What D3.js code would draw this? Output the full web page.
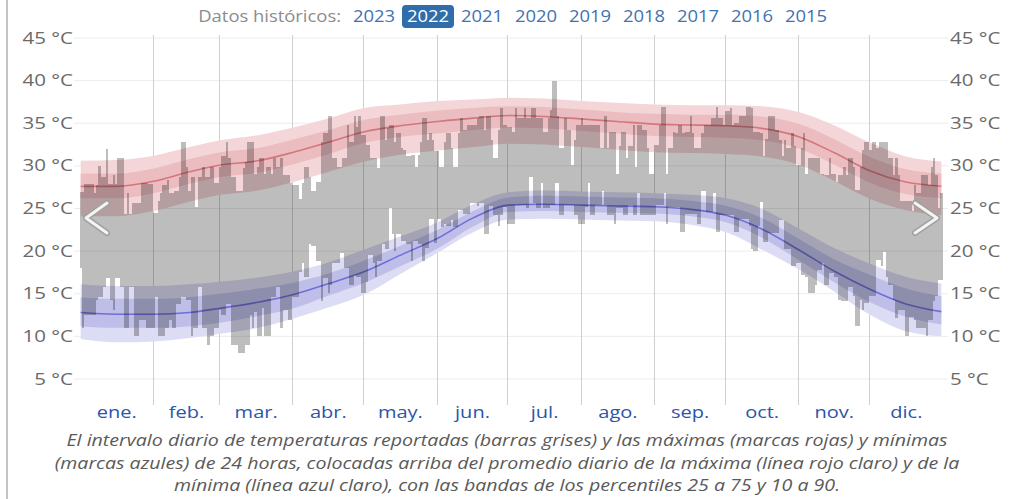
<!DOCTYPE html>
<html>
<head>
<meta charset="utf-8">
<script src="https://cdn.jsdelivr.net/npm/d3@7"></script>
<style>
  body { margin: 0; background: #fff; }
  svg { font-family: "Open Sans", sans-serif; display: block; }
</style>
</head>
<body>
<svg id="chart" width="1014" height="499"></svg>
<script>
// --- data ---
var years = ["2023", "2022", "2021", "2020", "2019", "2018", "2017", "2016", "2015"];
var selectedYear = "2022";
var months = ["ene.", "feb.", "mar.", "abr.", "may.", "jun.", "jul.", "ago.", "sep.", "oct.", "nov.", "dic."];
var monthStarts = [0, 31, 59, 90, 120, 151, 181, 212, 243, 273, 304, 334, 365];
var yTicks = [5, 10, 15, 20, 25, 30, 35, 40, 45];

// smoothed climatology (day of year)
var bandDays = [0, 15, 31, 46, 59, 75, 90, 105, 120, 135, 151, 166, 181, 196, 212, 227, 243, 258, 273, 288, 304, 319, 334, 349, 364];
var hiAvg = [27.6, 27.6, 28.2, 29.3, 30.1, 30.6, 31.6, 32.8, 34.0, 34.7, 35.2, 35.6, 35.9, 35.8, 35.5, 35.2, 34.9, 34.8, 34.7, 34.4, 33.4, 31.5, 29.4, 28.1, 27.6];
var hiP90 = [30.6, 30.7, 31.2, 32.2, 33.0, 33.6, 34.5, 35.6, 36.8, 37.2, 37.6, 37.8, 38.0, 37.9, 37.6, 37.4, 37.2, 37.1, 37.1, 37.0, 36.3, 34.7, 32.7, 31.1, 30.5];
var hiP75 = [29.1, 29.1, 29.7, 30.8, 31.6, 32.1, 33.1, 34.2, 35.4, 36.0, 36.5, 36.8, 37.0, 36.9, 36.6, 36.3, 36.1, 36.0, 36.0, 35.8, 34.9, 33.1, 31.0, 29.6, 29.1];
var hiP25 = [26.2, 26.2, 26.8, 27.9, 28.7, 29.2, 30.2, 31.4, 32.7, 33.4, 33.8, 34.2, 34.5, 34.4, 34.1, 33.8, 33.5, 33.4, 33.3, 33.0, 32.0, 30.1, 28.0, 26.7, 26.2];
var hiP10 = [24.1, 24.1, 24.7, 25.8, 26.6, 27.1, 28.1, 29.3, 30.5, 31.3, 31.8, 32.2, 32.6, 32.5, 32.2, 31.9, 31.6, 31.5, 31.4, 31.1, 30.1, 28.2, 26.1, 24.8, 24.2];
var loAvg = [12.8, 12.6, 12.6, 12.8, 13.3, 14.0, 14.9, 16.2, 17.6, 19.5, 21.5, 23.9, 25.4, 25.5, 25.4, 25.3, 25.2, 24.9, 24.2, 22.6, 20.1, 17.6, 15.5, 13.8, 12.9];
var loP90 = [16.1, 15.9, 15.9, 16.1, 16.4, 16.9, 17.6, 18.7, 20.2, 21.7, 23.4, 25.5, 26.9, 27.1, 27.0, 26.9, 26.8, 26.6, 26.2, 25.0, 22.6, 20.3, 18.5, 17.0, 16.2];
var loP75 = [14.6, 14.4, 14.4, 14.6, 15.0, 15.6, 16.3, 17.4, 18.9, 20.6, 22.5, 24.7, 26.3, 26.5, 26.4, 26.3, 26.2, 25.9, 25.3, 23.9, 21.4, 19.0, 17.2, 15.6, 14.7];
var loP25 = [11.2, 11.0, 11.0, 11.2, 11.6, 12.4, 13.3, 14.8, 16.3, 18.2, 20.3, 22.9, 24.6, 24.7, 24.6, 24.5, 24.4, 24.1, 23.4, 21.6, 18.9, 16.3, 14.0, 12.3, 11.4];
var loP10 = [9.7, 9.3, 9.4, 9.8, 10.3, 11.0, 12.1, 13.4, 14.9, 17.3, 19.8, 22.2, 23.7, 23.8, 23.7, 23.6, 23.5, 23.1, 22.2, 20.2, 17.8, 15.2, 12.5, 10.6, 10.0];

// 2022 daily reported max / min
var dailyHigh = [
  26.9, 26.9, 27.9, 27.9, 27.9, 27.9, 26.8, 27.7, 30.0, 28.7,
  28.7, 32.0, 27.9, 27.9, 28.9, 27.9, 30.9, 30.9, 30.9, 24.3,
  26.8, 24.4, 25.7, 25.7, 25.7, 25.7, 28.0, 28.0, 28.0, 27.9,
  27.9, 24.5, 24.5, 25.9, 26.8, 27.7, 27.7, 28.4, 26.8, 26.8,
  27.0, 27.0, 28.7, 32.8, 32.8, 29.9, 27.0, 28.7, 28.7, 25.2,
  28.7, 28.7, 29.9, 28.7, 28.7, 29.9, 29.9, 28.0, 28.0, 29.9,
  31.1, 31.1, 32.8, 30.9, 28.7, 28.7, 27.0, 27.0, 27.0, 29.7,
  30.5, 32.8, 32.8, 32.8, 29.1, 29.9, 30.9, 30.9, 29.1, 29.9,
  29.9, 29.1, 30.9, 29.9, 29.9, 30.9, 28.9, 28.9, 28.9, 28.0,
  27.8, 27.8, 27.8, 26.1, 28.0, 29.9, 29.9, 28.7, 27.0, 27.0,
  28.1, 28.1, 32.8, 33.8, 33.8, 35.8, 35.8, 30.9, 30.9, 29.9,
  29.9, 30.9, 30.9, 34.8, 32.8, 32.8, 35.8, 34.6, 35.9, 33.6,
  33.6, 32.4, 32.4, 30.9, 30.9, 30.9, 29.7, 35.8, 35.8, 33.0,
  34.4, 34.8, 34.8, 32.8, 33.8, 33.8, 32.1, 31.9, 31.1, 31.1,
  31.3, 31.3, 29.9, 31.3, 32.8, 35.6, 35.6, 33.0, 33.8, 33.0,
  31.7, 31.7, 29.9, 29.9, 32.8, 33.8, 33.8, 32.1, 29.9, 29.9,
  33.8, 35.6, 34.2, 34.2, 34.8, 34.8, 34.8, 34.8, 35.6, 35.9,
  35.9, 34.2, 35.9, 35.9, 33.0, 30.9, 30.9, 34.2, 36.8, 34.8,
  34.8, 34.6, 34.6, 34.0, 36.8, 35.6, 35.6, 35.6, 36.8, 35.6,
  35.6, 36.8, 36.8, 35.6, 35.6, 35.6, 34.0, 34.0, 35.6, 36.6,
  39.9, 39.9, 35.8, 32.1, 32.1, 35.6, 34.2, 34.2, 30.1, 33.0,
  34.8, 34.8, 35.6, 34.8, 34.8, 34.8, 34.8, 34.8, 34.8, 34.8,
  32.1, 32.1, 35.8, 32.1, 34.0, 34.0, 34.0, 29.1, 32.3, 34.0,
  34.0, 30.9, 32.3, 32.3, 34.8, 29.9, 34.8, 34.8, 34.2, 34.2,
  32.1, 29.1, 29.1, 32.4, 32.4, 34.8, 36.9, 36.9, 29.1, 32.1,
  32.1, 34.0, 33.8, 34.8, 34.8, 33.8, 34.0, 34.0, 35.8, 33.8,
  32.1, 32.1, 32.1, 33.8, 34.8, 34.8, 34.8, 35.6, 35.6, 36.9,
  35.6, 35.6, 34.8, 36.4, 36.4, 36.8, 34.8, 35.0, 35.0, 35.8,
  35.8, 35.8, 36.9, 36.9, 36.8, 34.0, 34.0, 34.0, 33.8, 31.1,
  33.2, 35.9, 35.9, 35.9, 34.2, 34.2, 33.0, 31.1, 33.0, 32.1,
  32.1, 33.8, 32.3, 30.1, 30.1, 32.1, 33.8, 29.1, 30.9, 30.9,
  30.9, 30.9, 30.9, 29.1, 29.1, 28.9, 28.9, 30.9, 29.1, 29.1,
  28.1, 28.9, 28.9, 29.9, 28.9, 30.9, 30.9, 29.9, 27.2, 27.2,
  29.9, 31.9, 32.8, 32.8, 31.9, 32.8, 32.8, 32.1, 32.8, 32.8,
  32.8, 32.8, 30.9, 30.9, 28.9, 30.9, 28.9, 25.9, 25.9, 25.9,
  25.9, 25.9, 24.7, 27.8, 26.8, 26.8, 28.9, 28.9, 28.9, 27.8,
  29.9, 30.9, 28.9, 25.1, 26.8
];
var dailyLow = [
  18.0, 11.0, 12.5, 12.5, 12.5, 12.5, 12.5, 14.3, 14.6, 14.6,
  15.8, 16.8, 16.8, 14.3, 13.1, 16.8, 16.8, 15.8, 15.8, 11.0,
  11.0, 15.8, 15.8, 10.0, 10.0, 11.9, 11.9, 11.9, 11.0, 11.0,
  11.0, 11.0, 14.6, 10.0, 10.0, 10.0, 11.0, 11.0, 11.9, 11.0,
  11.0, 13.8, 13.8, 14.6, 14.6, 14.3, 14.3, 10.0, 11.0, 11.0,
  15.8, 15.8, 11.0, 11.0, 9.0, 10.0, 10.0, 11.0, 11.0, 13.1,
  12.5, 12.5, 13.8, 13.8, 9.0, 9.0, 9.0, 8.0, 8.0, 8.0,
  9.0, 9.0, 12.5, 11.0, 12.9, 10.0, 10.0, 13.3, 10.0, 10.0,
  10.0, 14.6, 14.6, 15.8, 15.8, 11.0, 13.1, 13.1, 11.9, 11.9,
  14.6, 14.6, 14.6, 17.6, 18.6, 17.0, 17.0, 20.8, 20.6, 20.6,
  18.8, 18.8, 14.1, 16.8, 16.8, 15.1, 16.0, 18.6, 18.6, 18.6,
  19.8, 19.8, 18.0, 18.0, 16.0, 16.0, 17.2, 17.0, 17.0, 15.1,
  15.1, 16.4, 19.6, 19.6, 18.6, 17.0, 18.8, 18.8, 20.8, 20.2,
  20.2, 25.0, 22.0, 20.0, 22.0, 22.0, 21.2, 21.2, 20.8, 20.8,
  18.8, 21.2, 21.2, 20.8, 20.8, 18.8, 20.4, 20.4, 23.8, 23.8,
  21.0, 23.8, 23.8, 22.8, 23.2, 23.0, 23.0, 23.6, 22.8, 22.8,
  24.8, 24.8, 24.4, 24.4, 24.4, 25.7, 25.7, 25.7, 25.3, 25.7,
  25.7, 22.0, 22.0, 25.3, 25.3, 24.2, 24.2, 23.0, 24.2, 25.2,
  25.2, 23.2, 23.2, 23.2, 25.4, 25.4, 25.4, 25.4, 25.4, 25.0,
  28.7, 28.7, 25.6, 25.0, 25.0, 28.0, 25.0, 25.0, 25.0, 25.4,
  25.4, 28.0, 28.0, 24.2, 24.2, 25.4, 25.4, 25.4, 25.4, 24.2,
  24.2, 23.2, 23.2, 23.2, 25.2, 28.0, 24.2, 24.2, 25.4, 25.4,
  25.4, 27.0, 25.4, 24.2, 24.2, 24.2, 23.2, 25.0, 25.0, 25.0,
  24.2, 24.2, 25.4, 25.4, 24.2, 24.2, 26.8, 24.2, 24.2, 24.2,
  24.2, 24.2, 24.2, 24.2, 25.4, 25.4, 25.4, 26.8, 23.2, 25.2,
  25.2, 25.2, 25.2, 25.2, 22.3, 22.3, 24.4, 24.4, 24.4, 24.4,
  24.4, 23.2, 23.2, 27.0, 27.0, 24.6, 24.6, 24.6, 26.8, 22.3,
  22.3, 24.2, 24.2, 24.2, 24.2, 24.2, 24.2, 22.3, 22.3, 23.8,
  23.8, 23.8, 23.8, 23.0, 20.3, 20.0, 20.0, 22.9, 25.8, 21.1,
  21.1, 22.1, 22.1, 22.1, 22.1, 22.1, 23.7, 23.7, 20.2, 20.2,
  20.2, 18.2, 18.2, 18.6, 18.6, 17.2, 17.2, 17.0, 15.1, 15.1,
  15.1, 16.0, 17.8, 17.8, 18.6, 16.0, 16.0, 17.4, 17.4, 17.0,
  17.0, 14.3, 14.1, 14.1, 14.1, 15.8, 15.8, 14.7, 11.2, 11.2,
  14.3, 13.1, 13.9, 13.9, 14.7, 14.7, 14.7, 18.9, 18.9, 18.2,
  19.9, 17.0, 16.0, 16.0, 14.3, 12.2, 13.1, 13.1, 13.1, 10.0,
  10.0, 12.3, 12.3, 11.9, 11.0, 11.0, 11.0, 11.0, 10.0, 11.9,
  11.9, 14.1, 14.7, 16.6, 16.6
];
var caption = [
  "El intervalo diario de temperaturas reportadas (barras grises) y las máximas (marcas rojas) y mínimas",
  "(marcas azules) de 24 horas, colocadas arriba del promedio diario de la máxima (línea rojo claro) y de la",
  "mínima (línea azul claro), con las bandas de los percentiles 25 a 75 y 10 a 90."
];

var svg = d3.select("#chart");

var x = d3.scaleLinear().domain([0, 365]).range([79.5, 942.5]);
var y = d3.scaleLinear().domain([0, 45]).range([421.6, 38]);

// the screenshot text is a bit wider than the installed fonts, stretch it
function stretch(sel, k) {
  sel.each(function () {
    var w = this.getComputedTextLength();
    d3.select(this).attr("textLength", w * k).attr("lengthAdjust", "spacingAndGlyphs");
  });
}

// left border of the panel
svg.append("line").attr("x1", 7).attr("x2", 7).attr("y1", 0).attr("y2", 499)
  .attr("stroke", "#c4c4c4").attr("stroke-width", 2);

// grid
svg.append("g").selectAll("line").data(yTicks).enter().append("line")
  .attr("x1", 74).attr("x2", 948)
  .attr("y1", function (d) { return y(d); }).attr("y2", function (d) { return y(d); })
  .attr("stroke", "#ececec").attr("stroke-width", 1);

svg.append("g").selectAll("line").data(monthStarts.slice(1, -1)).enter().append("line")
  .attr("x1", function (d) { return Math.round(x(d)) + 0.5; })
  .attr("x2", function (d) { return Math.round(x(d)) + 0.5; })
  .attr("y1", 35).attr("y2", 405)
  .attr("stroke", "#d0d0d0").attr("stroke-width", 1);

// bands
function band(lo, hi) {
  return d3.area()
    .x(function (d, i) { return x(bandDays[i] + 0.5); })
    .y0(function (d, i) { return y(lo[i]); })
    .y1(function (d, i) { return y(hi[i]); })
    .curve(d3.curveMonotoneX)(bandDays);
}
function avgLine(vals) {
  return d3.line()
    .x(function (d, i) { return x(bandDays[i] + 0.5); })
    .y(function (d, i) { return y(vals[i]); })
    .curve(d3.curveMonotoneX)(bandDays);
}

svg.append("path").attr("d", band(hiP10, hiP90)).attr("fill", "#f4d6d8");
svg.append("path").attr("d", band(hiP25, hiP75)).attr("fill", "#ebbcc0");
svg.append("path").attr("d", band(loP10, loP90)).attr("fill", "#dcdcf4");
svg.append("path").attr("d", band(loP25, loP75)).attr("fill", "#bebee9");
svg.append("path").attr("d", avgLine(hiAvg)).attr("fill", "none")
  .attr("stroke", "#d3777c").attr("stroke-width", 1.6);
svg.append("path").attr("d", avgLine(loAvg)).attr("fill", "none")
  .attr("stroke", "#6f6fd8").attr("stroke-width", 1.6);

// daily bars
svg.append("g").attr("shape-rendering", "crispEdges")
  .selectAll("rect").data(dailyHigh).enter().append("rect")
  .attr("x", function (d, i) { return x(i); })
  .attr("width", function (d, i) { return x(i + 1) - x(i); })
  .attr("y", function (d) { return y(d); })
  .attr("height", function (d, i) { return y(dailyLow[i]) - y(d); })
  .attr("fill", "rgba(0,0,0,0.26)");

// y axes
var fmt = function (d) { return d + " °C"; };
var left = svg.append("g").attr("transform", "translate(73,0)")
  .call(d3.axisLeft(y).tickValues(yTicks).tickSize(0).tickPadding(0).tickFormat(fmt));
var right = svg.append("g").attr("transform", "translate(950,0)")
  .call(d3.axisRight(y).tickValues(yTicks).tickSize(0).tickPadding(0).tickFormat(fmt));
[left, right].forEach(function (g) {
  g.select(".domain").remove();
  g.selectAll("text").attr("font-size", 16).attr("fill", "#6a6a6a")
    .attr("font-family", "Open Sans, sans-serif");
  stretch(g.selectAll("text"), 1.28);
});

// month labels
var mid = months.map(function (m, i) { return (monthStarts[i] + monthStarts[i + 1]) / 2; });
var bottom = svg.append("g").attr("transform", "translate(0,401)")
  .call(d3.axisBottom(x).tickValues(mid).tickSize(0).tickPadding(6)
    .tickFormat(function (d, i) { return months[i]; }));
bottom.select(".domain").remove();
bottom.selectAll("text").attr("font-size", 16).attr("fill", "#2a55aa")
  .attr("font-family", "Open Sans, sans-serif");
stretch(bottom.selectAll("text"), 1.25);

// chevrons
function chevron(pts) {
  var p = d3.line()(pts);
  svg.append("path").attr("d", p).attr("fill", "none").attr("stroke", "#a0a0a0")
    .attr("stroke-width", 6).attr("stroke-linecap", "round").attr("stroke-linejoin", "round");
  svg.append("path").attr("d", p).attr("fill", "none").attr("stroke", "#f4f4f4")
    .attr("stroke-width", 3).attr("stroke-linecap", "round").attr("stroke-linejoin", "round");
}
chevron([[107, 203], [86, 218], [107, 233]]);
chevron([[915, 203], [937, 218], [915, 233]]);

// header: historic years
var head = svg.append("g").attr("font-size", 16);
head.append("text").attr("class", "lbl").attr("x", 341).attr("y", 22).attr("text-anchor", "end")
  .attr("fill", "#8c8c8c").text("Datos históricos:");
var yearX = d3.scalePoint().domain(years).range([374, 806]);
head.selectAll("rect").data(years.filter(function (d) { return d === selectedYear; }))
  .enter().append("rect")
  .attr("x", function (d) { return yearX(d) - 26; }).attr("y", 5)
  .attr("width", 52).attr("height", 23).attr("rx", 4)
  .attr("fill", "#2f6dab");
head.selectAll("text.yr").data(years).enter().append("text").attr("class", "yr")
  .attr("x", function (d) { return yearX(d); }).attr("y", 22)
  .attr("text-anchor", "middle")
  .attr("fill", function (d) { return d === selectedYear ? "#ffffff" : "#3f72b0"; })
  .text(function (d) { return d; });
stretch(head.selectAll("text"), 1.15);

// caption, same horizontal stretch for all three lines
var cap = svg.append("g").selectAll("text").data(caption).enter().append("text")
  .attr("x", 507).attr("y", function (d, i) { return 446 + i * 22.5; })
  .attr("text-anchor", "middle").attr("font-size", 16).attr("font-style", "italic")
  .attr("fill", "#5a5a5a")
  .text(function (d) { return d; });
var capK = 881 / cap.node().getComputedTextLength();
stretch(cap, capK);
</script>
</body>
</html>
